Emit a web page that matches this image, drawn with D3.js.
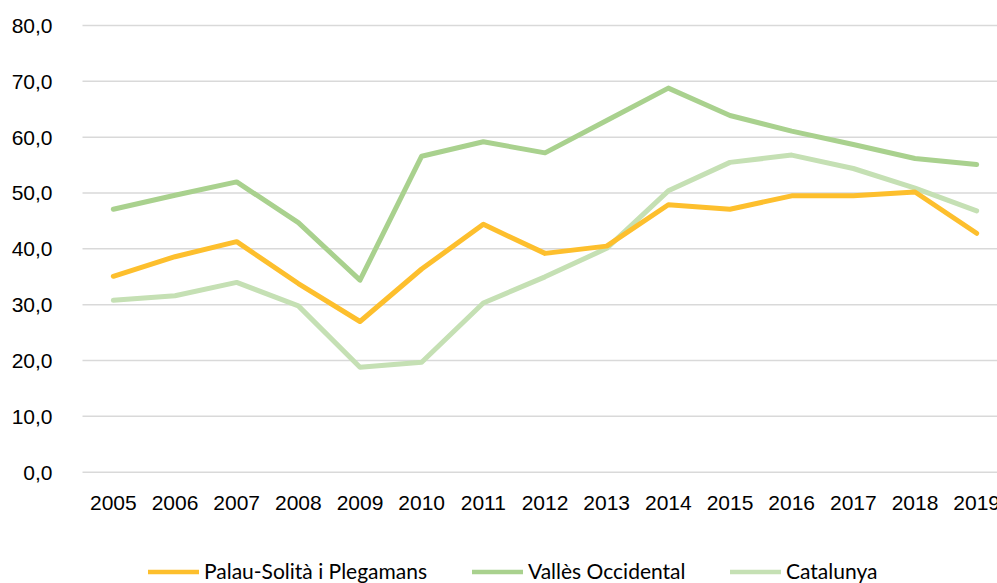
<!DOCTYPE html>
<html>
<head>
<meta charset="utf-8">
<script src="https://cdn.jsdelivr.net/npm/d3@7"></script>
<style>
  body { margin: 0; background: #fff; }
  svg { display: block; font-family: Lato, "Open Sans", sans-serif; }
  .tick text { fill: #000; font-size: 21px; }
</style>
</head>
<body>
<svg id="chart" width="997" height="583"></svg>
<script>
const years = ['2005', '2006', '2007', '2008', '2009', '2010', '2011', '2012', '2013', '2014', '2015', '2016', '2017', '2018', '2019']
const palau = [35.0, 38.5, 41.2, 33.7, 26.9, 36.3, 44.3, 39.1, 40.4, 47.8, 47.0, 49.4, 49.4, 50.1, 42.7]
const valles = [47.0, 49.5, 51.9, 44.6, 34.3, 56.5, 59.1, 57.1, 62.9, 68.7, 63.8, 61.0, 58.6, 56.1, 55.0]
const catalunya = [30.7, 31.5, 33.9, 29.7, 18.7, 19.6, 30.2, 34.9, 40.0, 50.3, 55.4, 56.7, 54.3, 50.8, 46.7]
const yTicks = [0, 10, 20, 30, 40, 50, 60, 70, 80]

const series = [
  {name: 'Palau-Solità i Plegamans', values: palau, color: '#FDBF2D'},
  {name: 'Vallès Occidental', values: valles, color: '#A9D18E'},
  {name: 'Catalunya', values: catalunya, color: '#C5E0B4'}
]

const svg = d3.select('#chart')
const plotLeft = 82.5, plotRight = 1007.5, plotTop = 25, plotBottom = 471.7

const x = d3.scaleBand().domain(years).range([plotLeft, plotRight])
const y = d3.scaleLinear().domain([0, 80]).range([plotBottom, plotTop])

// gridlines + y labels
const yAxis = svg.append('g')
  .attr('transform', `translate(${plotLeft},0)`)
  .call(d3.axisLeft(y).tickValues(yTicks).tickSize(-(plotRight - plotLeft)).tickPadding(30)
    .tickFormat(d => d3.format('.1f')(d).replace('.', ',')))
yAxis.select('.domain').remove()
yAxis.selectAll('.tick line').attr('stroke', '#D9D9D9').attr('stroke-width', 1.5)
yAxis.selectAll('.tick text').attr('dy', '0.35em')

// x labels
const xAxis = svg.append('g')
  .attr('transform', `translate(0,${plotBottom})`)
  .call(d3.axisBottom(x).tickSize(0).tickPadding(23))
xAxis.select('.domain').remove()

const line = d3.line()
  .x((d, i) => x(years[i]) + x.bandwidth() / 2)
  .y(d => y(d))

svg.append('g').selectAll('path')
  .data(series.slice().reverse())
  .join('path')
  .attr('d', d => line(d.values))
  .attr('fill', 'none')
  .attr('stroke', d => d.color)
  .attr('stroke-width', 5)
  .attr('stroke-linejoin', 'round')
  .attr('stroke-linecap', 'round')

// legend
const legendX = [148, 472, 730]
const legend = svg.append('g').selectAll('g')
  .data(series)
  .join('g')
  .attr('transform', (d, i) => `translate(${legendX[i]},572)`)
legend.append('line')
  .attr('x1', 0).attr('x2', 51)
  .attr('stroke', d => d.color)
  .attr('stroke-width', 4.5)
legend.append('text')
  .attr('x', 56)
  .attr('dy', '0.35em')
  .attr('font-size', 21)
  .attr('fill', '#000')
  .text(d => d.name)
</script>
</body>
</html>
